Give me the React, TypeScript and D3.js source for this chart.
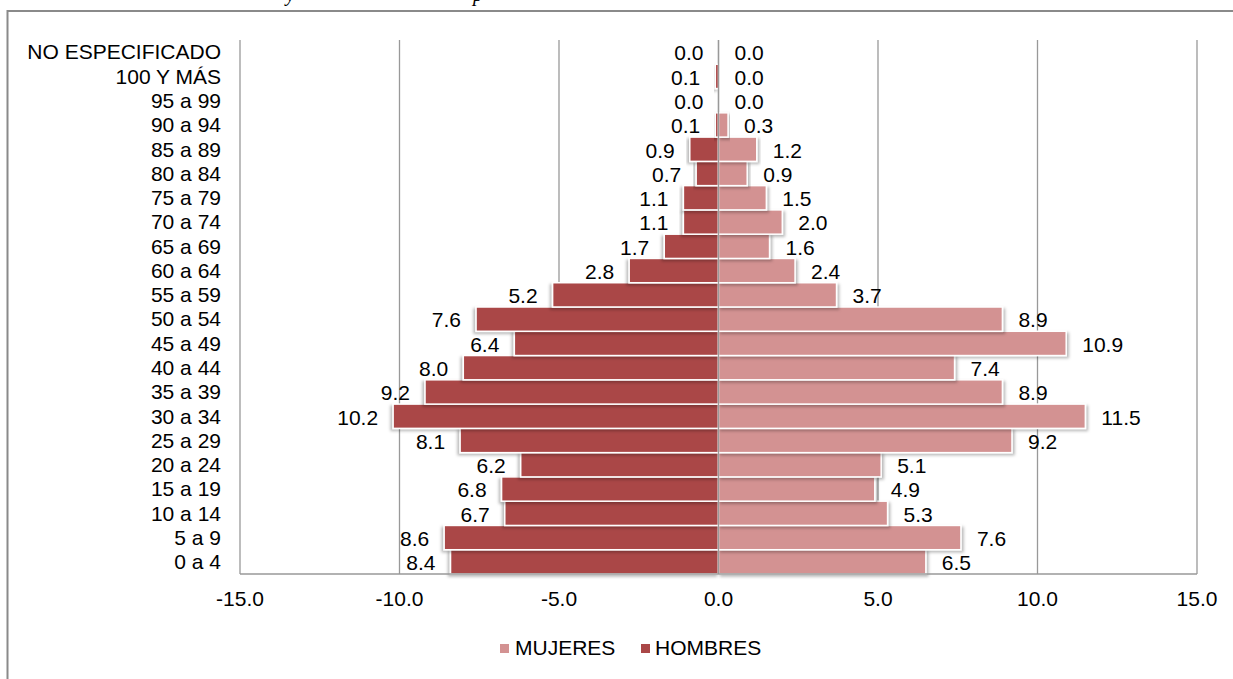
import * as d3 from "d3";

const categories: string[] = [
  "0 a 4", "5 a 9", "10 a 14", "15 a 19", "20 a 24", "25 a 29", "30 a 34", "35 a 39",
  "40 a 44", "45 a 49", "50 a 54", "55 a 59", "60 a 64", "65 a 69", "70 a 74", "75 a 79",
  "80 a 84", "85 a 89", "90 a 94", "95 a 99", "100 Y MÁS", "NO ESPECIFICADO",
];
const hombres: number[] = [
  8.4, 8.6, 6.7, 6.8, 6.2, 8.1, 10.2, 9.2, 8.0, 6.4, 7.6, 5.2, 2.8, 1.7, 1.1, 1.1, 0.7, 0.9, 0.1, 0.0, 0.1, 0.0,
];
const mujeres: number[] = [
  6.5, 7.6, 5.3, 4.9, 5.1, 9.2, 11.5, 8.9, 7.4, 10.9, 8.9, 3.7, 2.4, 1.6, 2.0, 1.5, 0.9, 1.2, 0.3, 0.0, 0.0, 0.0,
];
const xTicks: number[] = [-15, -10, -5, 0, 5, 10, 15];

const width = 1233;
const height = 679;
const plot = { left: 240, right: 1197, top: 40, bottom: 574 };
const colorH = "#AA4747";
const colorM = "#D39292";
const gridColor = "#999999";
const font = "'Liberation Sans', Arial, sans-serif";
const fs = 21;

const App = () => {
  const x = d3.scaleLinear().domain([-15, 15]).range([plot.left, plot.right]);
  const y = d3.scaleBand<string>()
    .domain([...categories].reverse())
    .range([plot.top, plot.bottom])
    .padding(0);
  const bw = y.bandwidth();

  return (
    <svg width={width} height={height} style={{ position: "absolute", left: 0, top: 0 }}
      fontFamily={font}>
      <defs>
        <filter id="shL" x="-10%" y="-30%" width="120%" height="160%">
          <feDropShadow dx={-2} dy={2} stdDeviation={1.8} floodColor="#000" floodOpacity={0.28} />
        </filter>
        <filter id="shR" x="-10%" y="-30%" width="120%" height="160%">
          <feDropShadow dx={2} dy={2} stdDeviation={1.8} floodColor="#000" floodOpacity={0.28} />
        </filter>
      </defs>
      <rect width={width} height={height} fill="#fff" />

      {/* title sits above the frame and is cut off, as in the source */}
      <text x={286} y={1} fontFamily="'Liberation Serif', serif" fontStyle="italic" fontSize={20}>y</text>
      <text x={473} y={1} fontFamily="'Liberation Serif', serif" fontStyle="italic" fontSize={20}>p</text>

      {/* outer frame */}
      <rect x={7.5} y={11} width={1400} height={900} fill="none" stroke="#8a8a8a" strokeWidth={2} />

      {/* gridlines */}
      {xTicks.map((t) => (
        <line key={"g" + t} x1={x(t)} x2={x(t)} y1={plot.top} y2={plot.bottom}
          stroke={gridColor} strokeWidth={1.3} />
      ))}

      {/* bars */}
      {categories.map((c, i) => (
        <g key={"b" + c}>
          <rect x={x(-hombres[i])} y={y(c)!} width={x(0) - x(-hombres[i])} height={bw}
            fill={colorH} stroke="#fff" strokeWidth={1.5} filter="url(#shL)" />
          <rect x={x(0)} y={y(c)!} width={x(mujeres[i]) - x(0)} height={bw}
            fill={colorM} stroke="#fff" strokeWidth={1.5} filter="url(#shR)" />
        </g>
      ))}

      {/* zero line and bottom axis */}
      <line x1={x(0)} x2={x(0)} y1={plot.top} y2={plot.bottom} stroke={gridColor} strokeWidth={1.3} />
      <line x1={plot.left} x2={plot.right} y1={plot.bottom} y2={plot.bottom} stroke={gridColor} strokeWidth={1.5} />

      {/* value labels */}
      {categories.map((c, i) => (
        <g key={"v" + c} fontSize={fs} fill="#000">
          <text x={x(-hombres[i]) - 15} y={y(c)! + bw / 2 + 1} dy="0.35em" textAnchor="end">
            {hombres[i].toFixed(1)}
          </text>
          <text x={x(mujeres[i]) + 16} y={y(c)! + bw / 2 + 1} dy="0.35em" textAnchor="start">
            {mujeres[i].toFixed(1)}
          </text>
        </g>
      ))}

      {/* category labels */}
      {categories.map((c) => (
        <text key={"c" + c} x={221} y={y(c)! + bw / 2} dy="0.35em" textAnchor="end" fontSize={fs}>
          {c}
        </text>
      ))}

      {/* x tick labels */}
      {xTicks.map((t) => (
        <text key={"t" + t} x={x(t)} y={606} textAnchor="middle" fontSize={fs}>
          {t.toFixed(1)}
        </text>
      ))}

      {/* legend */}
      <rect x={500} y={644} width={9} height={9} fill={colorM} />
      <text x={515} y={655} fontSize={fs}>MUJERES</text>
      <rect x={641} y={644} width={9} height={9} fill={colorH} />
      <text x={655} y={655} fontSize={fs}>HOMBRES</text>
    </svg>
  );
};

export default App;
